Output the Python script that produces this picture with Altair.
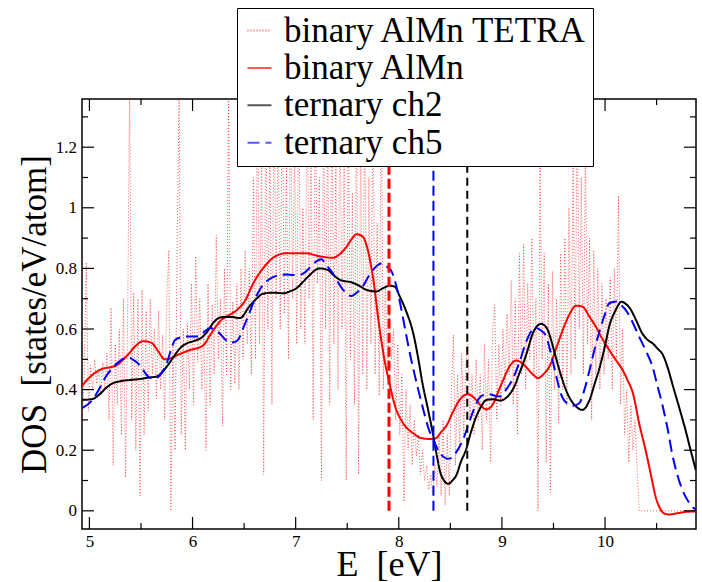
import altair as alt
import pandas as pd

# ---------------- data ----------------
SERIES = ["binary AlMn TETRA", "binary AlMn", "ternary ch2", "ternary ch5"]
COLORS = ["#ff0000", "#ff0000", "#000000", "#0000ff"]
DASHES = [[1, 2], [1, 0], [1, 0], [12, 6]]

# TETRA (noisy, dotted) sampled every 0.02 eV starting at 4.93 eV
tetra_start = 4.93
tetra_step = 0.02
tetra_vals = [
    0.30, 0.45, 0.82, 0.33, 0.48, 0.40, 0.50, 0.42, 0.47, 0.38,
    0.49, 0.40, 0.52, 0.30, 0.67, 0.15, 0.55, 0.35, 0.60, 0.25,
    0.70, 0.11, 0.62, 1.40, 0.30, 0.72, 0.20, 0.70, 0.05, 0.73,
    0.25, 0.66, 0.33, 0.70, 0.45, 0.60, 0.37, 0.66, 0.40, 0.58,
    0.30, 0.70, 0.86, 0.00, 0.55, 0.20, 0.85, 1.40, 0.25, 0.60,
    0.20, 0.62, 0.40, 0.75, 0.35, 0.84, 0.49, 0.70, 0.40, 0.60,
    0.20, 0.75, 0.35, 0.68, 0.45, 0.91, 0.50, 0.70, 0.28, 0.80,
    0.45, 1.40, 0.40, 0.69, 0.42, 0.75, 0.40, 0.80, 0.50, 0.86,
    0.55, 0.80, 0.45, 1.10, 0.50, 1.40, 0.55, 1.20, 0.12, 1.40,
    0.60, 1.25, 0.35, 1.40, 0.70, 1.30, 0.60, 1.40, 0.65, 1.15,
    0.50, 1.40, 0.70, 1.20, 0.55, 1.40, 0.60, 1.00, 0.55, 1.40,
    0.70, 1.20, 0.30, 1.40, 0.75, 1.10, 0.10, 1.40, 0.60, 1.30,
    0.35, 1.40, 0.55, 1.15, 0.40, 1.40, 0.60, 1.20, 0.10, 1.40,
    0.50, 1.05, 0.35, 1.40, 0.12, 1.25, 0.45, 1.40, 0.40, 1.10,
    0.55, 1.40, 0.45, 0.95, 0.38, 1.40, 0.40, 0.75, 0.45, 0.65,
    0.50, 0.60, 0.30, 0.55, 0.25, 0.45, 0.03, 0.40, 0.20, 0.35,
    0.15, 0.30, 0.18, 0.25, 0.12, 0.20, 0.10, 0.15, 0.07, 0.12,
    0.05, 0.15, 0.08, 0.25, 0.05, 0.30, 0.02, 0.25, 0.05, 0.40,
    0.58, 0.15, 0.45, 0.20, 0.52, 0.25, 0.48, 0.55, 0.30, 0.45,
    0.25, 0.50, 0.30, 0.45, 0.20, 0.55, 0.30, 0.50, 0.16, 0.60,
    0.68, 0.30, 0.55, 0.35, 0.60, 0.40, 0.65, 0.45, 0.76, 0.35,
    0.70, 0.25, 0.85, 0.45, 0.88, 0.40, 0.75, 0.50, 0.90, 0.45,
    0.70, 0.00, 1.15, 0.50, 0.85, 0.16, 0.75, 0.06, 0.79, 0.40,
    0.70, 0.29, 0.85, 0.40, 0.90, 0.35, 1.00, 0.45, 1.15, 0.50,
    1.35, 0.60, 1.10, 0.45, 1.20, 0.55, 0.90, 0.30, 0.86, 0.45,
    0.80, 0.40, 0.75, 0.45, 0.70, 0.50, 0.77, 0.40, 0.80, 0.50,
    1.04, 0.35, 0.60, 0.25, 0.40, 0.16, 0.35, 0.20, 0.30, 0.15,
    0.00,
]
tetra_tail_e = [10.88]
tetra_tail_dos = [0.00]

red_e = [4.90, 5.00, 5.10, 5.26, 5.36, 5.45, 5.52, 5.60, 5.67, 5.73, 5.80, 5.86,
         5.97, 6.10, 6.18, 6.28, 6.35, 6.42, 6.52, 6.58, 6.65, 6.72, 6.78, 6.91,
         7.10, 7.23, 7.36, 7.42, 7.49, 7.55, 7.59, 7.65, 7.70, 7.75, 7.81, 7.86,
         7.91, 7.96, 8.04, 8.14, 8.22, 8.30, 8.36, 8.41, 8.46, 8.53, 8.59, 8.67,
         8.75, 8.80, 8.85, 8.91, 8.96, 9.01, 9.08, 9.14, 9.23, 9.30, 9.35, 9.40,
         9.46, 9.52, 9.59, 9.65, 9.72, 9.78, 9.85, 9.91, 9.97, 10.04, 10.10, 10.17,
         10.22, 10.27, 10.33, 10.40, 10.45, 10.49, 10.53, 10.57, 10.62, 10.70, 10.80, 10.88]
red_dos = [0.40, 0.44, 0.465, 0.48, 0.51, 0.545, 0.56, 0.555, 0.525, 0.50, 0.505, 0.515,
           0.53, 0.545, 0.585, 0.63, 0.645, 0.66, 0.70, 0.745, 0.785, 0.815, 0.835, 0.85,
           0.85, 0.84, 0.835, 0.845, 0.87, 0.90, 0.913, 0.905, 0.86, 0.77, 0.61, 0.50,
           0.42, 0.35, 0.29, 0.256, 0.24, 0.237, 0.24, 0.26, 0.28, 0.33, 0.366, 0.385,
           0.366, 0.345, 0.335, 0.35, 0.39, 0.43, 0.48, 0.496, 0.476, 0.45, 0.438, 0.45,
           0.476, 0.53, 0.597, 0.645, 0.677, 0.674, 0.64, 0.608, 0.57, 0.531, 0.50, 0.465,
           0.43, 0.388, 0.29, 0.19, 0.11, 0.047, 0.01, -0.008, -0.012, -0.008, -0.003, -0.002]

ch2_e = [4.93, 5.03, 5.10, 5.16, 5.22, 5.29, 5.40, 5.49, 5.58, 5.65, 5.70, 5.75,
         5.82, 5.88, 5.94, 6.00, 6.10, 6.15, 6.20, 6.28, 6.37, 6.46, 6.55, 6.62,
         6.68, 6.78, 6.88, 6.95, 7.01, 7.07, 7.13, 7.23, 7.31, 7.37, 7.43, 7.55,
         7.62, 7.68, 7.78, 7.85, 7.91, 7.96, 8.01, 8.07, 8.14, 8.19, 8.23, 8.28,
         8.33, 8.37, 8.41, 8.48, 8.52, 8.56, 8.60, 8.65, 8.70, 8.75, 8.80, 8.85,
         8.92, 8.98, 9.03, 9.07, 9.12, 9.17, 9.24, 9.30, 9.38, 9.44, 9.48, 9.52,
         9.57, 9.62, 9.67, 9.72, 9.78, 9.85, 9.90, 9.95, 10.00, 10.04, 10.10, 10.16,
         10.20, 10.24, 10.30, 10.36, 10.41, 10.46, 10.51, 10.56, 10.61, 10.66, 10.72, 10.78,
         10.83, 10.88]
ch2_dos = [0.366, 0.369, 0.385, 0.405, 0.42, 0.427, 0.432, 0.435, 0.44, 0.443, 0.455, 0.476,
           0.51, 0.537, 0.552, 0.559, 0.575, 0.595, 0.62, 0.639, 0.64, 0.636, 0.674, 0.70,
           0.716, 0.72, 0.718, 0.725, 0.735, 0.755, 0.776, 0.80, 0.795, 0.777, 0.762, 0.753,
           0.742, 0.73, 0.724, 0.735, 0.743, 0.74, 0.707, 0.66, 0.586, 0.50, 0.42, 0.34,
           0.256, 0.18, 0.119, 0.089, 0.10, 0.119, 0.16, 0.20, 0.26, 0.31, 0.345, 0.366,
           0.368, 0.364, 0.37, 0.383, 0.41, 0.454, 0.52, 0.586, 0.617, 0.60, 0.56, 0.51,
           0.45, 0.40, 0.365, 0.344, 0.333, 0.366, 0.42, 0.476, 0.545, 0.608, 0.66, 0.69,
           0.683, 0.669, 0.63, 0.586, 0.565, 0.553, 0.535, 0.515, 0.47, 0.41, 0.34, 0.267,
           0.20, 0.135]

ch5_e = [4.93, 5.03, 5.10, 5.16, 5.22, 5.29, 5.34, 5.39, 5.43, 5.47, 5.52, 5.57,
         5.61, 5.65, 5.70, 5.75, 5.79, 5.83, 5.88, 5.94, 6.05, 6.11, 6.17, 6.22,
         6.26, 6.31, 6.36, 6.40, 6.44, 6.50, 6.55, 6.60, 6.65, 6.71, 6.78, 6.85,
         6.91, 6.98, 7.04, 7.09, 7.13, 7.20, 7.25, 7.30, 7.36, 7.41, 7.46, 7.54,
         7.60, 7.65, 7.70, 7.75, 7.80, 7.84, 7.88, 7.93, 7.97, 8.01, 8.05, 8.10,
         8.16, 8.23, 8.29, 8.35, 8.39, 8.43, 8.47, 8.51, 8.55, 8.59, 8.64, 8.69,
         8.74, 8.78, 8.83, 8.88, 8.93, 8.98, 9.04, 9.10, 9.17, 9.23, 9.28, 9.33,
         9.38, 9.43, 9.46, 9.49, 9.53, 9.57, 9.63, 9.69, 9.75, 9.80, 9.85, 9.90,
         9.95, 10.00, 10.04, 10.11, 10.15, 10.20, 10.27, 10.33, 10.40, 10.46, 10.51, 10.56,
         10.61, 10.65, 10.70, 10.75, 10.80, 10.86, 10.88]
ch5_dos = [0.339, 0.366, 0.405, 0.443, 0.47, 0.493, 0.503, 0.504, 0.497, 0.487, 0.465, 0.443,
           0.437, 0.438, 0.455, 0.487, 0.53, 0.564, 0.572, 0.575, 0.575, 0.59, 0.603, 0.597,
           0.586, 0.568, 0.555, 0.556, 0.564, 0.61, 0.652, 0.695, 0.729, 0.755, 0.771, 0.778,
           0.78, 0.778, 0.779, 0.787, 0.80, 0.823, 0.83, 0.81, 0.784, 0.755, 0.729, 0.709,
           0.722, 0.74, 0.77, 0.795, 0.812, 0.817, 0.807, 0.79, 0.75, 0.69, 0.62, 0.531,
           0.44, 0.344, 0.27, 0.223, 0.195, 0.179, 0.172, 0.174, 0.19, 0.212, 0.25, 0.30,
           0.345, 0.372, 0.383, 0.385, 0.38, 0.377, 0.40, 0.432, 0.49, 0.553, 0.59, 0.603,
           0.595, 0.575, 0.54, 0.498, 0.44, 0.388, 0.355, 0.347, 0.355, 0.40, 0.465, 0.535,
           0.597, 0.65, 0.685, 0.691, 0.68, 0.663, 0.62, 0.575, 0.525, 0.476, 0.41, 0.344,
           0.265, 0.19, 0.12, 0.069, 0.035, 0.009, 0.005]

# Fermi levels (vertical dashed lines)
fermi_e = [7.905, 8.336, 8.664]
fermi_color = ["#ff0000", "#0000ff", "#000000"]
fermi_dash = [[10, 4], [10, 5], [8, 5]]
fermi_width = [3, 2, 2]

x_major = [5, 6, 7, 8, 9, 10]
x_minor = [5.5, 6.5, 7.5, 8.5, 9.5, 10.5]
y_major = [0, 0.2, 0.4, 0.6, 0.8, 1.0, 1.2]
y_minor = [0.1, 0.3, 0.5, 0.7, 0.9, 1.1, 1.3]

X_DOMAIN = [4.928, 10.882]
Y_DOMAIN = [-0.06, 1.359]

# ---------------- build ----------------
W, H = 614, 430
FONT = "Liberation Serif, Times New Roman, DejaVu Serif, serif"

tetra_e = [round(tetra_start + i * tetra_step, 2) for i in range(len(tetra_vals))] + tetra_tail_e
tetra_dos = tetra_vals + tetra_tail_dos

XS = alt.Scale(domain=X_DOMAIN, nice=False, zero=False)
YS = alt.Scale(domain=Y_DOMAIN, nice=False, zero=False)

XA = alt.Axis(values=x_major, format="d", ticks=False, tickSize=0, domain=False, grid=False,
              labelFont=FONT, labelFontSize=17, labelColor="black", labelPadding=4,
              labelFlush=False, title="E\u00a0\u00a0[eV]", titleFont=FONT, titleFontSize=36,
              titleFontWeight="normal", titleColor="black", titleX=307, titleY=46,
              titleBaseline="alphabetic", titleAlign="center")
YA = alt.Axis(values=y_major, format="~g", ticks=False, tickSize=0, domain=False, grid=False,
              labelFont=FONT, labelFontSize=17, labelColor="black", labelPadding=5.5,
              title="DOS\u00a0\u00a0[states/eV/atom]", titleFont=FONT, titleFontSize=35,
              titleFontWeight="normal", titleColor="black", titleX=-37, titleY=215,
              titleAngle=270, titleBaseline="alphabetic", titleAlign="center")

LEG = alt.Legend(orient="none", legendX=155, legendY=-91, title=None, symbolType="stroke",
                 symbolSize=576, symbolStrokeWidth=2, labelFont=FONT, labelFontSize=35,
                 labelColor="black", labelLimit=0, padding=5, rowPadding=1.4, labelOffset=7,
                 fillColor="white", strokeColor="black")

CS = alt.Scale(domain=SERIES, range=COLORS)
DS = alt.Scale(domain=SERIES, range=DASHES)


def series_layer(name, es, ds, width, interp, opacity=1.0):
    df = pd.DataFrame({"E": es, "DOS": ds, "series": name})
    return alt.Chart(df).mark_line(clip=True, strokeWidth=width, interpolate=interp,
                                   opacity=opacity).encode(
        x=alt.X("E:Q", scale=XS, axis=XA),
        y=alt.Y("DOS:Q", scale=YS, axis=YA),
        color=alt.Color("series:N", scale=CS, legend=LEG),
        strokeDash=alt.StrokeDash("series:N", scale=DS, legend=LEG),
        order=alt.Order("E:Q"),
    )


layers = [
    series_layer(SERIES[0], tetra_e, tetra_dos, 1, "linear", 0.65),
    series_layer(SERIES[1], red_e, red_dos, 2, "monotone"),
    series_layer(SERIES[2], ch2_e, ch2_dos, 2, "monotone"),
    series_layer(SERIES[3], ch5_e, ch5_dos, 2, "monotone"),
]

for e, c, d, w in zip(fermi_e, fermi_color, fermi_dash, fermi_width):
    fdf = pd.DataFrame({"E": [e], "DOS": [0.0]})
    layers.append(alt.Chart(fdf).mark_rule(color=c, strokeDash=d, strokeWidth=w, clip=True).encode(
        x=alt.X("E:Q", scale=XS, axis=XA),
        y=alt.Y("DOS:Q", scale=YS, axis=YA),
        y2=alt.value(0),
    ))


def tick_layer(vals, horizontal, pos, length):
    if horizontal:  # ticks along x axis
        df = pd.DataFrame({"E": vals})
        return alt.Chart(df).mark_rule(color="black", strokeWidth=1.2).encode(
            x=alt.X("E:Q", scale=XS, axis=XA),
            y=alt.value(pos), y2=alt.value(pos + length))
    df = pd.DataFrame({"DOS": vals})
    return alt.Chart(df).mark_rule(color="black", strokeWidth=1.2).encode(
        y=alt.Y("DOS:Q", scale=YS, axis=YA),
        x=alt.value(pos), x2=alt.value(pos + length))


layers += [
    tick_layer(x_major, True, H, -12), tick_layer(x_minor, True, H, -6),
    tick_layer(x_major, True, 0, 12), tick_layer(x_minor, True, 0, 6),
    tick_layer(y_major, False, 0, 12), tick_layer(y_minor, False, 0, 6),
    tick_layer(y_major, False, W, -12), tick_layer(y_minor, False, W, -6),
]

chart = alt.layer(*layers).properties(
    width=W, height=H,
    autosize=alt.AutoSizeParams(type="none"),
    padding={"left": 82, "top": 99, "right": 6, "bottom": 53},
    background="white",
).configure_view(stroke="black", strokeWidth=1.5)

chart.save("out.html", embed_options={"renderer": "svg", "actions": False})
